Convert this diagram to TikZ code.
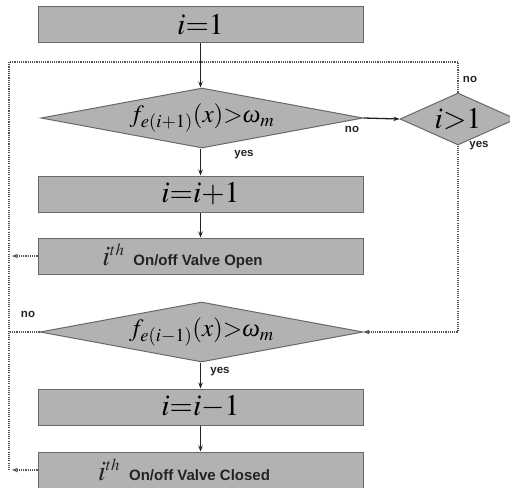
\documentclass[tikz,border=0pt]{standalone}
\usepackage{mathptmx}
\usepackage[no-math]{fontspec}
\newfontfamily\arialfont{Liberation Sans}
\newfontfamily\timesfont{Liberation Serif}
\usetikzlibrary{shapes.geometric,arrows.meta}
\definecolor{boxfill}{RGB}{178,178,178}
\definecolor{boxline}{RGB}{105,105,105}
\definecolor{flow}{RGB}{35,35,35}
\definecolor{loopgray}{RGB}{85,85,85}
% italic omega taken from the text serif
\newcommand{\itomega}{\mbox{\timesfont\itshape ω}}
\begin{document}
\begin{tikzpicture}[x=1pt,y=-1pt,
  procbox/.style={draw=boxline, fill=boxfill, line width=1pt,
    minimum width=325pt, minimum height=36pt, inner sep=0pt,
    font=\fontsize{30}{30}\selectfont},
  decision/.style={diamond, draw=boxline, fill=boxfill, line width=1pt,
    inner sep=0pt, aspect=5},
  eqn/.style={font=\fontsize{25}{25}\selectfont},
  valvetext/.style={inner sep=0pt, text=flow},
  flowarrow/.style={draw=flow, line width=1.3pt,
    -{Stealth[length=6pt,width=4.5pt]}},
  loopline/.style={draw=loopgray, line width=1.1pt,
    dash pattern=on 1.1pt off 1.1pt},
  looparrow/.style={loopline, -{Stealth[length=6pt,width=4.5pt]}},
  answer/.style={font=\arialfont\bfseries\fontsize{11.5}{11.5}\selectfont,
    text=flow, inner sep=0pt}]
\useasboundingbox (0,0) rectangle (510,487);

% process boxes and decisions
\node[procbox] (b1) at (200.5,25) {$i{=}1$};
\node[decision, minimum width=322pt, minimum height=60pt, eqn] (d1) at (202,118)
  {$f_{e(i{+}1)}(x){>}\itomega_m$};
\node[decision, aspect=2, minimum width=116pt, minimum height=52pt,
  font=\fontsize{30}{30}\selectfont] (d2) at (458,119) {$i{>}1$};
\node[procbox] (b2) at (200.5,194) {$i{=}i{+}1$};
\node[procbox] (b3) at (200.5,256) {};
\node[valvetext] (b3t) at ([xshift=-18pt]b3.center)
  {{\fontsize{28}{28}\selectfont$i^{\scriptscriptstyle th}$}\hspace{9pt}%
   {\arialfont\bfseries\fontsize{15}{15}\selectfont On/off Valve Open}};
\node[decision, minimum width=323pt, minimum height=60pt, eqn] (d3) at (201.5,332)
  {$f_{e(i{-}1)}(x){>}\itomega_m$};
\node[procbox] (b4) at (200.5,407) {$i{=}i{-}1$};
\node[procbox] (b5) at (200.5,470) {};
\node[valvetext] (b5t) at ([xshift=-16.5pt]b5.center)
  {{\fontsize{28}{28}\selectfont$i^{\scriptscriptstyle th}$}\hspace{9pt}%
   {\arialfont\bfseries\fontsize{15}{15}\selectfont On/off Valve Closed}};

% main flow
\draw[flowarrow] (b1.south) -- (b1.south |- d1.north);
\draw[flowarrow] (b1.south |- d1.south) -- (b2.north);
\draw[flowarrow] (b2.south) -- (b3.north);
\draw[flowarrow] (d1.east) -- (d2.west);
\draw[flowarrow] (b4.north |- d3.south) -- (b4.north);
\draw[flowarrow] (b4.south) -- (b5.north);

% dotted return loop
\coordinate (tl) at (9,62);
\coordinate (bl) at (9,470);
\draw[loopline] (d2.north) |- (tl) -- (bl);
\draw[loopline] (d3.west) -- (d3.west -| tl);
\draw[looparrow, shorten >=3pt] (b3.west) -- (b3.west -| tl);
\draw[looparrow, shorten >=3pt] (b5.west) -- (bl);
\draw[looparrow] (d2.south) |- (d3.east);

% branch answers
\node[answer] (a1) at (244,155) {yes};
\node[answer] (a2) at (352,129) {no};
\node[answer] (a3) at (470,79) {no};
\node[answer] (a4) at (479,146) {yes};
\node[answer] (a5) at (28,314) {no};
\node[answer] (a6) at (220,372) {yes};
\end{tikzpicture}
\end{document}
